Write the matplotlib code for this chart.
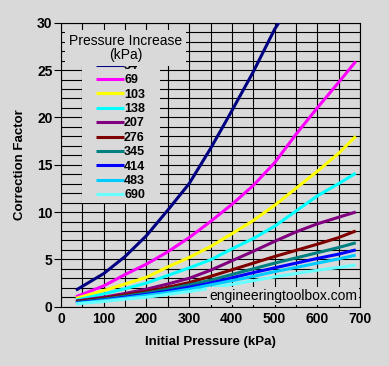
import matplotlib
matplotlib.use('Agg')
import matplotlib.pyplot as plt
from matplotlib.patches import Rectangle
from matplotlib.ticker import MultipleLocator

# Initial pressure (kPa) and correction factor for each pressure increase (kPa)
x_common = [35, 100, 150, 200, 250, 300, 350, 400, 450, 500, 550, 600, 650, 690]
x_34 = [35, 100, 150, 200, 250, 300, 350, 400, 450, 500, 510]

cf_34 = [1.75, 3.5, 5.3, 7.5, 10.2, 13.0, 16.7, 20.7, 24.8, 29.3, 30.0]
cf_69 = [1.05, 2.2, 3.4, 4.5, 5.8, 7.3, 9.0, 10.8, 12.8, 15.2, 18.2, 21.0, 23.7, 25.9]
cf_103 = [0.88, 1.7, 2.4, 3.1, 4.2, 5.2, 6.35, 7.7, 9.1, 10.7, 12.5, 14.3, 16.2, 18.0]
cf_138 = [0.7, 1.35, 1.9, 2.5, 3.3, 4.1, 4.95, 6.1, 7.2, 8.5, 10.1, 11.7, 13.0, 14.1]
cf_207 = [0.6, 1.0, 1.4, 1.85, 2.4, 3.0, 3.85, 4.85, 5.85, 6.9, 7.9, 8.75, 9.45, 10.0]
cf_276 = [0.55, 0.9, 1.25, 1.6, 2.05, 2.55, 3.2, 3.9, 4.6, 5.3, 5.95, 6.6, 7.3, 8.0]
cf_345 = [0.45, 0.8, 1.1, 1.45, 1.85, 2.3, 2.8, 3.4, 4.0, 4.6, 5.15, 5.7, 6.25, 6.75]
cf_414 = [0.4, 0.7, 1.0, 1.3, 1.65, 2.05, 2.5, 3.05, 3.6, 4.1, 4.6, 5.1, 5.55, 6.0]
cf_483 = [0.35, 0.65, 0.9, 1.2, 1.5, 1.85, 2.3, 2.75, 3.2, 3.7, 4.15, 4.6, 5.05, 5.45]
cf_690 = [0.3, 0.55, 0.8, 1.0, 1.3, 1.6, 1.95, 2.35, 2.75, 3.15, 3.5, 3.85, 4.15, 4.4]

labels = ['34', '69', '103', '138', '207', '276', '345', '414', '483', '690']
colors = ['#000080', '#ff00ff', '#ffff00', '#00ffff', '#800080',
          '#800000', '#008080', '#0000ff', '#00ccff', '#66ffff']
series = [cf_34, cf_69, cf_103, cf_138, cf_207, cf_276, cf_345, cf_414, cf_483, cf_690]

bg = '#d9d9d9'
plt.rcParams['font.family'] = ['Liberation Sans', 'DejaVu Sans']

fig = plt.figure(figsize=(3.89, 3.66), dpi=100, facecolor=bg)
ax = fig.add_axes([61 / 389, 1 - 306.7 / 366, 299 / 389, 284 / 366])
ax.set_facecolor(bg)

handles = []
for lab, col, ys in zip(labels, colors, series):
    xs = x_34 if lab == '34' else x_common
    h, = ax.plot(xs, ys, color=col, linewidth=2.2, label=lab, zorder=3,
                 solid_capstyle='butt')
    handles.append(h)

ax.set_xlim(0, 700)
ax.set_ylim(0, 30)
ax.xaxis.set_major_locator(MultipleLocator(100))
ax.xaxis.set_minor_locator(MultipleLocator(50))
ax.yaxis.set_major_locator(MultipleLocator(5))
ax.yaxis.set_minor_locator(MultipleLocator(1))
ax.grid(True, which='both', color='black', linewidth=0.8, zorder=1)
ax.set_axisbelow(True)

ax.tick_params(axis='y', which='major', length=5, width=0.8, pad=1, labelsize=10)
ax.tick_params(axis='y', which='minor', length=0)
ax.tick_params(axis='x', which='both', length=0, pad=4, labelsize=10)
for t in ax.get_xticklabels() + ax.get_yticklabels():
    t.set_fontweight('bold')
for s in ax.spines.values():
    s.set_color('black')
    s.set_linewidth(0.8)

ax.set_xlabel('Initial Pressure (kPa)', fontsize=9.5, fontweight='bold', labelpad=7)
ax.set_ylabel('Correction Factor', fontsize=9.5, fontweight='bold', labelpad=8)

# gray panel behind the legend, hiding the grid
ax.add_patch(Rectangle(((82 - 61) / 299, (306.7 - 203) / 284), 78 / 299, 143 / 284,
                       transform=ax.transAxes, facecolor=bg, edgecolor='none', zorder=4))

leg = ax.legend(handles=handles, loc='upper left',
                bbox_to_anchor=((96 - 61) / 299, (306.7 - 60) / 284),
                fontsize=9, labelspacing=0.19, handlelength=2.2, handletextpad=0.05,
                borderpad=0.0, borderaxespad=0.0, frameon=False)
leg.set_zorder(5)
for t in leg.get_texts():
    t.set_fontweight('bold')

ax.text((125.5 - 61) / 299, (306.7 - 48) / 284, 'Pressure Increase\n(kPa)',
        transform=ax.transAxes, ha='center', va='center', fontsize=10,
        linespacing=1.05, zorder=6,
        bbox=dict(boxstyle='square,pad=0.25', facecolor=bg, edgecolor='none'))

ax.text((357 - 61) / 299, (306.7 - 296) / 284, 'engineeringtoolbox.com',
        transform=ax.transAxes, ha='right', va='center', fontsize=10, zorder=4,
        bbox=dict(boxstyle='square,pad=0.15', facecolor=bg, edgecolor='none'))

fig.savefig('out.png', dpi=100, facecolor=bg)
